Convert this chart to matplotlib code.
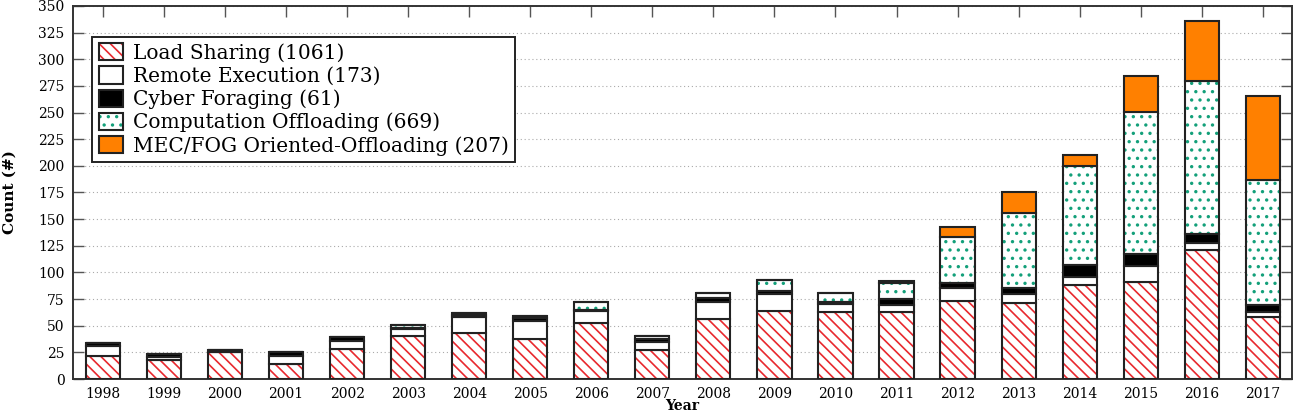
import matplotlib
matplotlib.use("Agg")
import matplotlib.pyplot as plt
import numpy as np

# ========== data ==========
years = [str(y) for y in range(1998, 2018)]
load_sharing = [22, 18, 25, 14, 28, 40, 43, 38, 53, 27, 56, 64, 63, 63, 73, 71, 88, 91, 121, 58]
remote_exec = [9, 3, 0, 8, 8, 7, 15, 16, 11, 8, 16, 16, 7, 6, 12, 9, 8, 15, 7, 5]
cyber_foraging = [3, 2, 2, 3, 3, 1, 2, 3, 1, 3, 4, 3, 2, 6, 5, 5, 11, 11, 8, 6]
comp_offloading = [0, 0, 0, 0, 0, 3, 2, 2, 7, 2, 5, 10, 9, 15, 43, 71, 93, 134, 144, 118]
mec_fog = [0, 0, 0, 0, 0, 0, 0, 0, 0, 0, 0, 0, 0, 2, 10, 19, 10, 33, 56, 79]

series_labels = [
    "Load Sharing (1061)",
    "Remote Execution (173)",
    "Cyber Foraging (61)",
    "Computation Offloading (669)",
    "MEC/FOG Oriented-Offloading (207)",
]

# ========== style ==========
RED = "#e8282e"
GREEN = "#13a07a"
ORANGE = "#ff8000"
plt.rcParams["font.family"] = ["DejaVu Serif"]
plt.rcParams["hatch.linewidth"] = 1.2

# (face colour, hatch colour, hatch)
styles = [
    ("white", RED, "\\\\\\"),
    ("white", None, None),
    ("black", None, None),
    ("white", GREEN, ".."),
    (ORANGE, None, None),
]
all_series = [load_sharing, remote_exec, cyber_foraging, comp_offloading, mec_fog]

fig = plt.figure(figsize=(12.96, 4.13), dpi=100)
ax = fig.add_axes([0.0563, 0.0823, 0.9407, 0.9032])

x = np.arange(len(years))
width = 0.56
bottom = np.zeros(len(years))
handles = []
for vals, (face, hcol, hatch), lab in zip(all_series, styles, series_labels):
    vals = np.array(vals, dtype=float)
    if hatch:
        layer = ax.bar(x, vals, width, bottom=bottom, color=face,
                       edgecolor=hcol, hatch=hatch, linewidth=0, zorder=2)
        outline = ax.bar(x, vals, width, bottom=bottom, fill=False,
                         edgecolor="#222222", linewidth=1.5, zorder=3)
        handles.append((layer[0], outline[0]))
    else:
        b = ax.bar(x, vals, width, bottom=bottom, color=face,
                   edgecolor="#222222", linewidth=1.5, zorder=3)
        handles.append(b[0])
    bottom += vals

ax.set_xlim(-0.49, len(years) - 0.52)
ax.set_ylim(0, 350)
ax.set_yticks(np.arange(0, 351, 25))
ax.set_xticks(x)
ax.set_xticklabels(years)
ax.tick_params(direction="in", top=True, right=True, length=8, width=1,
               color="#555555", labelsize=10, pad=6)
ax.yaxis.grid(True, linestyle=(0, (1, 2.5)), color="#aaaaaa", linewidth=0.8, zorder=0)
ax.set_axisbelow(True)
for sp in ax.spines.values():
    sp.set_linewidth(1.4)
    sp.set_color("#333333")

ax.set_ylabel("Count (#)", fontsize=11, fontweight="bold")
ax.yaxis.set_label_coords(-0.046, 0.5)
ax.set_xlabel("Year", fontsize=10, fontweight="bold")
ax.xaxis.set_label_coords(0.5, -0.053)

leg = ax.legend(handles, series_labels, loc="upper left",
                bbox_to_anchor=(0.016, 0.917), borderaxespad=0,
                fontsize=14.5, frameon=True,
                fancybox=False, framealpha=1, edgecolor="#222222",
                handlelength=1.2, handleheight=0.95, handletextpad=0.5,
                labelspacing=0.18, borderpad=0.3)
leg.get_frame().set_linewidth(1.4)

fig.savefig("out.png", dpi=100)
